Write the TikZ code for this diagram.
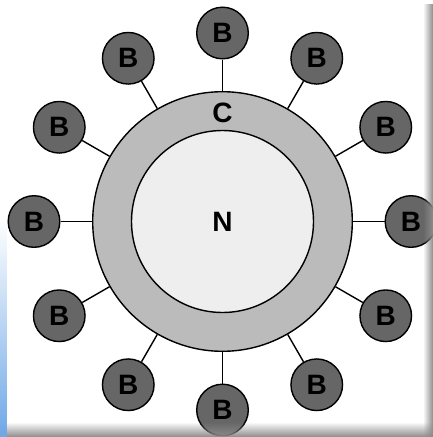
\documentclass[tikz,border=0pt]{standalone}
\usepackage{fontspec}
\setmainfont{Liberation Sans}
\usetikzlibrary{calc,fadings}
\definecolor{ballfill}{HTML}{666666}
\definecolor{ringfill}{HTML}{BBBBBB}
\definecolor{corefill}{HTML}{EEEEEE}
\definecolor{edgeblue}{HTML}{6FA8E8}
\tikzset{
  ball/.style={circle, draw=black, line width=1.4pt, fill=ballfill, minimum size=51.6pt, inner sep=0pt, font=\fontsize{28}{28}\selectfont\bfseries},
  ring/.style={circle, draw=black, line width=1.4pt, fill=ringfill, minimum size=259.6pt, inner sep=0pt},
  core/.style={circle, draw=black, line width=1.4pt, fill=corefill, minimum size=182pt, inner sep=0pt},
  lbl/.style={font=\fontsize{28}{28}\selectfont\bfseries, inner sep=0pt},
  spoke/.style={line width=1.4pt, draw=black}
}
\begin{document}
\begin{tikzpicture}[x=1pt,y=-1pt]
\useasboundingbox (0,0) rectangle (433,437);
\fill[white] (0,0) rectangle (433,437);
\coordinate (ctr) at (222.5,221.5);
\node[ring] (outer) at (ctr) {};
\node[core] (inner) at (ctr) {};
\node[lbl] (clbl) at (222.5,113) {C};
\node[lbl] (nlbl) at (ctr) {N};
\foreach \i in {0,...,11}{
  \node[ball] (b\i) at ($(ctr)+(\i*30:188.5)$) {B};
  \draw[spoke] (b\i) -- (outer);
}
% window frame shading
\fill[black!45, path fading=west] (423,4) rectangle (433,437);
\fill[black!45, path fading=north] (0,422) rectangle (433,437);
\fill[edgeblue, path fading=north] (0,220) rectangle (7,437);
\end{tikzpicture}
\end{document}
